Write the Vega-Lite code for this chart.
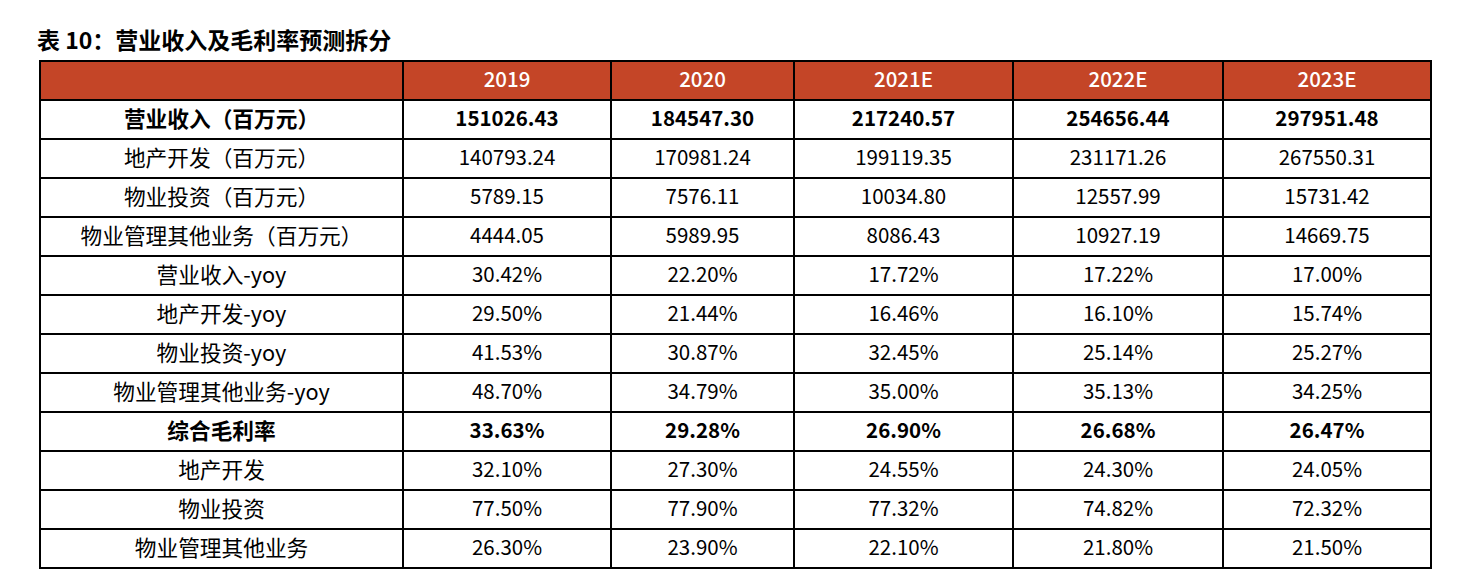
{
  "$schema": "https://vega.github.io/schema/vega-lite/v6.json",
  "padding": {"left": 37, "top": 31, "right": 0, "bottom": 0},
  "background": "#ffffff",
  "bounds": "flush",
  "spacing": 0,
  "title": {"text": "表 10：营业收入及毛利率预测拆分", "anchor": "start", "font": "Noto Sans CJK SC", "fontSize": 23, "fontWeight": "bold", "color": "#000000", "offset": 6, "dx": -2},
  "config": {"view": {"stroke": null}},
  "data": {"values": [
    {"项目": "", "2019": "2019", "2020": "2020", "2021E": "2021E", "2022E": "2022E", "2023E": "2023E"},
    {"项目": "营业收入（百万元）", "2019": "151026.43", "2020": "184547.30", "2021E": "217240.57", "2022E": "254656.44", "2023E": "297951.48"},
    {"项目": "地产开发（百万元）", "2019": "140793.24", "2020": "170981.24", "2021E": "199119.35", "2022E": "231171.26", "2023E": "267550.31"},
    {"项目": "物业投资（百万元）", "2019": "5789.15", "2020": "7576.11", "2021E": "10034.80", "2022E": "12557.99", "2023E": "15731.42"},
    {"项目": "物业管理其他业务（百万元）", "2019": "4444.05", "2020": "5989.95", "2021E": "8086.43", "2022E": "10927.19", "2023E": "14669.75"},
    {"项目": "营业收入-yoy", "2019": "30.42%", "2020": "22.20%", "2021E": "17.72%", "2022E": "17.22%", "2023E": "17.00%"},
    {"项目": "地产开发-yoy", "2019": "29.50%", "2020": "21.44%", "2021E": "16.46%", "2022E": "16.10%", "2023E": "15.74%"},
    {"项目": "物业投资-yoy", "2019": "41.53%", "2020": "30.87%", "2021E": "32.45%", "2022E": "25.14%", "2023E": "25.27%"},
    {"项目": "物业管理其他业务-yoy", "2019": "48.70%", "2020": "34.79%", "2021E": "35.00%", "2022E": "35.13%", "2023E": "34.25%"},
    {"项目": "综合毛利率", "2019": "33.63%", "2020": "29.28%", "2021E": "26.90%", "2022E": "26.68%", "2023E": "26.47%"},
    {"项目": "地产开发", "2019": "32.10%", "2020": "27.30%", "2021E": "24.55%", "2022E": "24.30%", "2023E": "24.05%"},
    {"项目": "物业投资", "2019": "77.50%", "2020": "77.90%", "2021E": "77.32%", "2022E": "74.82%", "2023E": "72.32%"},
    {"项目": "物业管理其他业务", "2019": "26.30%", "2020": "23.90%", "2021E": "22.10%", "2022E": "21.80%", "2023E": "21.50%"}
  ]},
  "hconcat": [
    {
      "width": 363, "height": 507,
      "encoding": {"y": {"field": "项目", "type": "nominal", "sort": null, "axis": null, "scale": {"paddingInner": 0, "paddingOuter": 0}}},
      "layer": [
        {"mark": {"type": "rect", "stroke": "#000000", "strokeWidth": 2}, "encoding": {"fill": {"condition": {"test": "datum['项目']===''", "value": "#C44527"}, "value": "#ffffff"}}},
        {"transform": [{"filter": "datum['项目']!=='营业收入（百万元）' && datum['项目']!=='综合毛利率'"}], "mark": {"type": "text", "font": "Noto Sans CJK SC", "fontSize": 21.7, "color": "#000000"}, "encoding": {"text": {"field": "项目"}}},
        {"transform": [{"filter": "datum['项目']==='营业收入（百万元）' || datum['项目']==='综合毛利率'"}], "mark": {"type": "text", "font": "Noto Sans CJK SC", "fontSize": 21.7, "fontWeight": "bold", "color": "#000000"}, "encoding": {"text": {"field": "项目"}}}
      ]
    },
    {
      "width": 208, "height": 507,
      "encoding": {"y": {"field": "项目", "type": "nominal", "sort": null, "axis": null, "scale": {"paddingInner": 0, "paddingOuter": 0}}},
      "layer": [
        {"mark": {"type": "rect", "stroke": "#000000", "strokeWidth": 2}, "encoding": {"fill": {"condition": {"test": "datum['项目']===''", "value": "#C44527"}, "value": "#ffffff"}}},
        {"transform": [{"filter": "datum['项目']!=='营业收入（百万元）' && datum['项目']!=='综合毛利率' && datum['项目']!==''"}], "mark": {"type": "text", "font": "Noto Sans CJK SC", "fontSize": 20.5, "color": "#000000"}, "encoding": {"text": {"field": "2019"}}},
        {"transform": [{"filter": "datum['项目']===''"}], "mark": {"type": "text", "font": "Noto Sans CJK SC", "fontSize": 20.5, "fontWeight": 500, "color": "#ffffff"}, "encoding": {"text": {"field": "2019"}}},
        {"transform": [{"filter": "datum['项目']==='营业收入（百万元）' || datum['项目']==='综合毛利率'"}], "mark": {"type": "text", "font": "Noto Sans CJK SC", "fontSize": 20.5, "fontWeight": "bold", "color": "#000000"}, "encoding": {"text": {"field": "2019"}}}
      ]
    },
    {
      "width": 183, "height": 507,
      "encoding": {"y": {"field": "项目", "type": "nominal", "sort": null, "axis": null, "scale": {"paddingInner": 0, "paddingOuter": 0}}},
      "layer": [
        {"mark": {"type": "rect", "stroke": "#000000", "strokeWidth": 2}, "encoding": {"fill": {"condition": {"test": "datum['项目']===''", "value": "#C44527"}, "value": "#ffffff"}}},
        {"transform": [{"filter": "datum['项目']!=='营业收入（百万元）' && datum['项目']!=='综合毛利率' && datum['项目']!==''"}], "mark": {"type": "text", "font": "Noto Sans CJK SC", "fontSize": 20.5, "color": "#000000"}, "encoding": {"text": {"field": "2020"}}},
        {"transform": [{"filter": "datum['项目']===''"}], "mark": {"type": "text", "font": "Noto Sans CJK SC", "fontSize": 20.5, "fontWeight": 500, "color": "#ffffff"}, "encoding": {"text": {"field": "2020"}}},
        {"transform": [{"filter": "datum['项目']==='营业收入（百万元）' || datum['项目']==='综合毛利率'"}], "mark": {"type": "text", "font": "Noto Sans CJK SC", "fontSize": 20.5, "fontWeight": "bold", "color": "#000000"}, "encoding": {"text": {"field": "2020"}}}
      ]
    },
    {
      "width": 219, "height": 507,
      "encoding": {"y": {"field": "项目", "type": "nominal", "sort": null, "axis": null, "scale": {"paddingInner": 0, "paddingOuter": 0}}},
      "layer": [
        {"mark": {"type": "rect", "stroke": "#000000", "strokeWidth": 2}, "encoding": {"fill": {"condition": {"test": "datum['项目']===''", "value": "#C44527"}, "value": "#ffffff"}}},
        {"transform": [{"filter": "datum['项目']!=='营业收入（百万元）' && datum['项目']!=='综合毛利率' && datum['项目']!==''"}], "mark": {"type": "text", "font": "Noto Sans CJK SC", "fontSize": 20.5, "color": "#000000"}, "encoding": {"text": {"field": "2021E"}}},
        {"transform": [{"filter": "datum['项目']===''"}], "mark": {"type": "text", "font": "Noto Sans CJK SC", "fontSize": 20.5, "fontWeight": 500, "color": "#ffffff"}, "encoding": {"text": {"field": "2021E"}}},
        {"transform": [{"filter": "datum['项目']==='营业收入（百万元）' || datum['项目']==='综合毛利率'"}], "mark": {"type": "text", "font": "Noto Sans CJK SC", "fontSize": 20.5, "fontWeight": "bold", "color": "#000000"}, "encoding": {"text": {"field": "2021E"}}}
      ]
    },
    {
      "width": 210, "height": 507,
      "encoding": {"y": {"field": "项目", "type": "nominal", "sort": null, "axis": null, "scale": {"paddingInner": 0, "paddingOuter": 0}}},
      "layer": [
        {"mark": {"type": "rect", "stroke": "#000000", "strokeWidth": 2}, "encoding": {"fill": {"condition": {"test": "datum['项目']===''", "value": "#C44527"}, "value": "#ffffff"}}},
        {"transform": [{"filter": "datum['项目']!=='营业收入（百万元）' && datum['项目']!=='综合毛利率' && datum['项目']!==''"}], "mark": {"type": "text", "font": "Noto Sans CJK SC", "fontSize": 20.5, "color": "#000000"}, "encoding": {"text": {"field": "2022E"}}},
        {"transform": [{"filter": "datum['项目']===''"}], "mark": {"type": "text", "font": "Noto Sans CJK SC", "fontSize": 20.5, "fontWeight": 500, "color": "#ffffff"}, "encoding": {"text": {"field": "2022E"}}},
        {"transform": [{"filter": "datum['项目']==='营业收入（百万元）' || datum['项目']==='综合毛利率'"}], "mark": {"type": "text", "font": "Noto Sans CJK SC", "fontSize": 20.5, "fontWeight": "bold", "color": "#000000"}, "encoding": {"text": {"field": "2022E"}}}
      ]
    },
    {
      "width": 208, "height": 507,
      "encoding": {"y": {"field": "项目", "type": "nominal", "sort": null, "axis": null, "scale": {"paddingInner": 0, "paddingOuter": 0}}},
      "layer": [
        {"mark": {"type": "rect", "stroke": "#000000", "strokeWidth": 2}, "encoding": {"fill": {"condition": {"test": "datum['项目']===''", "value": "#C44527"}, "value": "#ffffff"}}},
        {"transform": [{"filter": "datum['项目']!=='营业收入（百万元）' && datum['项目']!=='综合毛利率' && datum['项目']!==''"}], "mark": {"type": "text", "font": "Noto Sans CJK SC", "fontSize": 20.5, "color": "#000000"}, "encoding": {"text": {"field": "2023E"}}},
        {"transform": [{"filter": "datum['项目']===''"}], "mark": {"type": "text", "font": "Noto Sans CJK SC", "fontSize": 20.5, "fontWeight": 500, "color": "#ffffff"}, "encoding": {"text": {"field": "2023E"}}},
        {"transform": [{"filter": "datum['项目']==='营业收入（百万元）' || datum['项目']==='综合毛利率'"}], "mark": {"type": "text", "font": "Noto Sans CJK SC", "fontSize": 20.5, "fontWeight": "bold", "color": "#000000"}, "encoding": {"text": {"field": "2023E"}}}
      ]
    }
  ]
}
